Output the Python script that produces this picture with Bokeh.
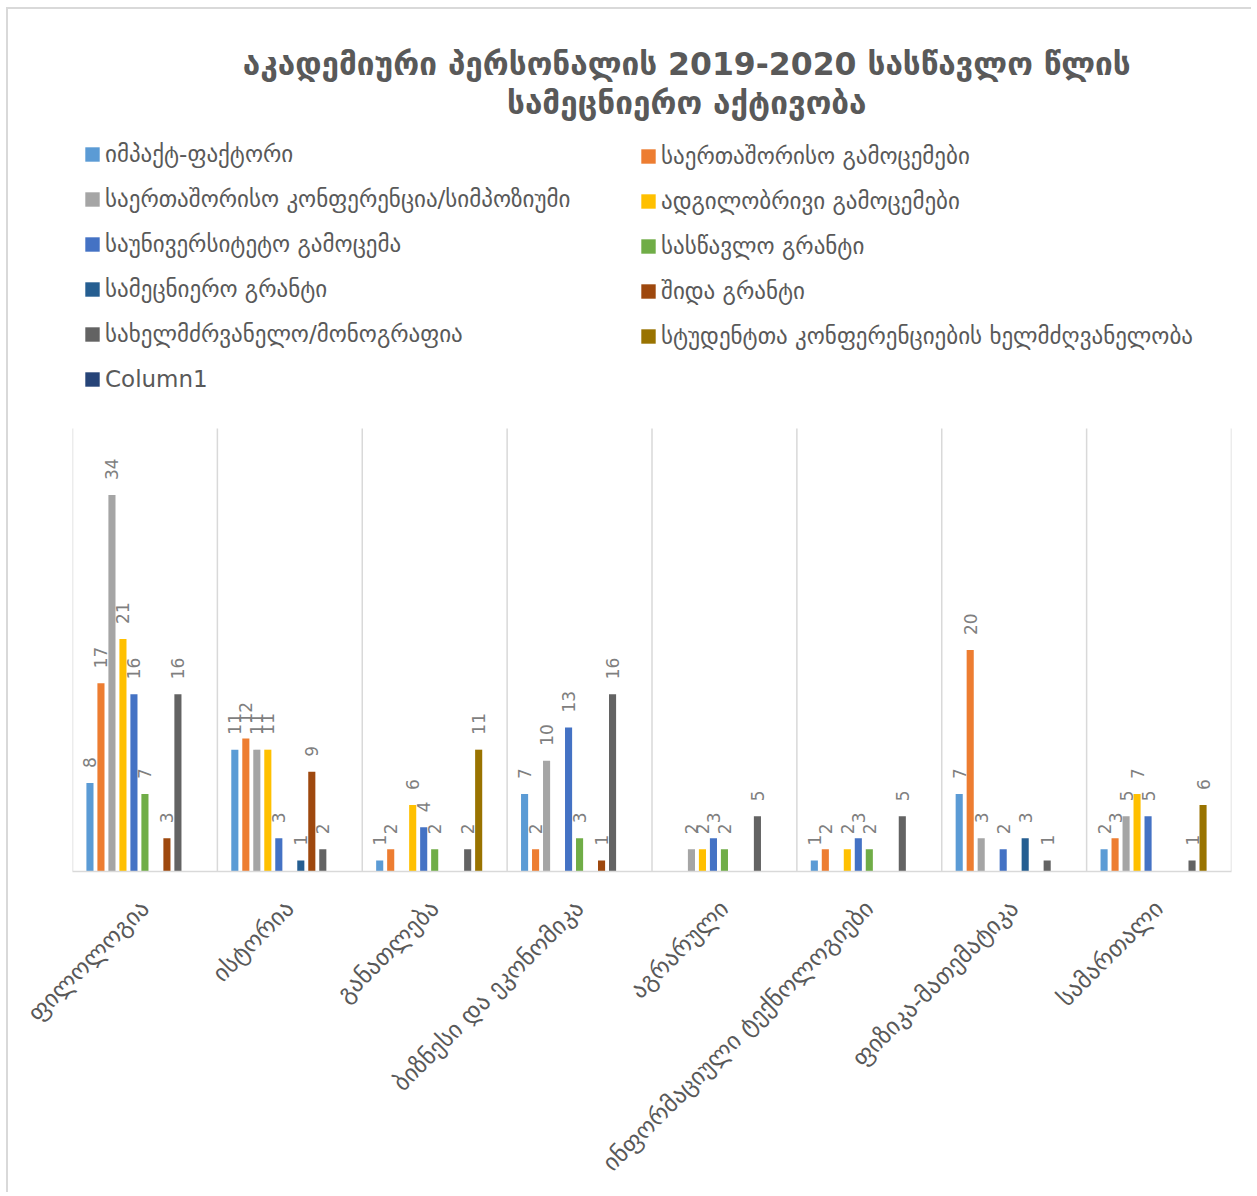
import math
from bokeh.plotting import figure
from bokeh.models import Range1d, FixedTicker, Legend, LegendItem, Label, ColumnDataSource
from bokeh.transform import dodge
from bokeh.core.properties import value
from bokeh.embed import file_html
from bokeh.resources import INLINE

# ---------------- data ----------------
categories = ["ფილოლოგია", "ისტორია", "განათლება", "ბიზნესი და ეკონომიკა",
              "აგრარული", "ინფორმაციული ტექნოლოგიები", "ფიზიკა-მათემატიკა", "სამართალი"]

series_names = ["იმპაქტ-ფაქტორი",
                "საერთაშორისო გამოცემები",
                "საერთაშორისო კონფერენცია/სიმპოზიუმი",
                "ადგილობრივი გამოცემები",
                "საუნივერსიტეტო გამოცემა",
                "სასწავლო გრანტი",
                "სამეცნიერო გრანტი",
                "შიდა გრანტი",
                "სახელმძრვანელო/მონოგრაფია",
                "სტუდენტთა კონფერენციების ხელმძღვანელობა",
                "Column1"]

impact_factor   = [8, 11, 1, 7, 0, 1, 7, 2]
intl_pubs       = [17, 12, 2, 2, 0, 2, 20, 3]
intl_conf       = [34, 11, 0, 10, 2, 0, 3, 5]
local_pubs      = [21, 11, 6, 0, 2, 2, 0, 7]
univ_pub        = [16, 3, 4, 13, 3, 3, 2, 5]
teaching_grant  = [7, 0, 2, 3, 2, 2, 0, 0]
science_grant   = [0, 1, 0, 0, 0, 0, 3, 0]
internal_grant  = [3, 9, 0, 1, 0, 0, 0, 0]
textbook        = [16, 2, 2, 16, 5, 5, 1, 1]
student_conf    = [0, 0, 11, 0, 0, 0, 0, 6]
column1         = [0, 0, 0, 0, 0, 0, 0, 0]

series_values = [impact_factor, intl_pubs, intl_conf, local_pubs, univ_pub,
                 teaching_grant, science_grant, internal_grant, textbook,
                 student_conf, column1]

colors = ["#5B9BD5", "#ED7D31", "#A5A5A5", "#FFC000", "#4472C4", "#70AD47",
          "#255E91", "#9E480E", "#636363", "#997300", "#264478"]

title_lines = ["აკადემიური პერსონალის 2019-2020 სასწავლო წლის", "სამეცნიერო აქტივობა"]

Y_MAX = 40  # value axis maximum

# ---------------- figure ----------------
FONT = "DejaVu Sans"
W, H = 1245, 1185
FRAME_H = 862
Y_TOP = Y_MAX * FRAME_H / 443.0   # frame extends above the value area for title + legend
n_cat = len(categories)
p = figure(width=W, height=H, output_backend="svg", toolbar_location=None,
           x_range=Range1d(0, n_cat), y_range=Range1d(0, Y_TOP),
           y_axis_location=None,
           min_border_left=64, min_border_right=22,
           min_border_top=0, min_border_bottom=H - FRAME_H,
           styles={"border-left": "2px solid #D9D9D9", "border-top": "2px solid #D9D9D9",
                   "border-right": "0px none", "border-bottom": "0px none",
                   "outline": "none", "box-shadow": "none",
                   "margin-left": "6px", "margin-top": "7px"})
p.outline_line_color = None
p.border_fill_color = "white"
p.background_fill_color = "white"
p.xgrid.grid_line_color = None
p.ygrid.grid_line_color = None

# category separators (vertical gridlines over the value area)
bounds = list(range(n_cat + 1))
p.segment(x0=bounds, y0=[0] * len(bounds), x1=bounds, y1=[Y_MAX] * len(bounds),
          line_color="#D9D9D9", line_width=1.5)

centers = [i + 0.5 for i in range(n_cat)]
xa = p.xaxis[0]
xa.ticker = FixedTicker(ticks=centers)
xa.major_label_overrides = {c: name for c, name in zip(centers, categories)}
xa.major_label_orientation = math.pi / 4
xa.major_label_text_font = FONT
xa.major_label_text_font_size = "24px"
xa.major_label_text_color = "#595959"
xa.major_label_standoff = 27
xa.axis_line_color = "#D9D9D9"
xa.axis_line_width = 1.5
xa.major_tick_line_color = None
xa.minor_tick_line_color = None

step = 0.0759
bar_w = 0.049
renderers = []
for k, (name, vals, col) in enumerate(zip(series_names, series_values, colors)):
    off = (k - 5) * step
    src = ColumnDataSource(dict(x=centers, top=vals))
    r = p.vbar(x=dodge("x", off, range=p.x_range), top="top", width=bar_w, bottom=0,
               source=src, fill_color=col, line_color=None)
    renderers.append(r)
    lx = [c for c, v in zip(centers, vals) if v > 0]
    ly = [v for v in vals if v > 0]
    lt = [str(v) for v in vals if v > 0]
    lsrc = ColumnDataSource(dict(x=lx, y=ly, t=lt))
    p.text(x=dodge("x", off, range=p.x_range), y="y", text="t", source=lsrc,
           angle=math.pi / 2, text_align="left", text_baseline="middle",
           y_offset=-15, text_font=value(FONT), text_font_size="17px",
           text_color="#7F7F7F")

# legends (two columns)
common = dict(orientation="vertical", glyph_width=18, glyph_height=18,
              label_height=22, spacing=19, label_standoff=4, padding=0, margin=0,
              border_line_color=None, background_fill_alpha=0,
              label_text_font=FONT, label_text_font_size="23px",
              label_text_color="#595959")
leg1 = Legend(items=[LegendItem(label=series_names[k], renderers=[renderers[k]]) for k in range(0, 11, 2)],
              location=(11, 479), **common)
leg2 = Legend(items=[LegendItem(label=series_names[k], renderers=[renderers[k]]) for k in range(1, 11, 2)],
              location=(567, 522), **common)
p.add_layout(leg1)
p.add_layout(leg2)

# title (two centred lines)
for txt, yy in zip(title_lines, [72.9, 69.4]):
    p.add_layout(Label(x=4.24, y=yy, text=txt, text_align="center", text_baseline="middle",
                       text_font=FONT, text_font_size="31.5px", text_font_style="bold",
                       text_color="#595959"))

open("out.html", "w").write(file_html(p, INLINE))
